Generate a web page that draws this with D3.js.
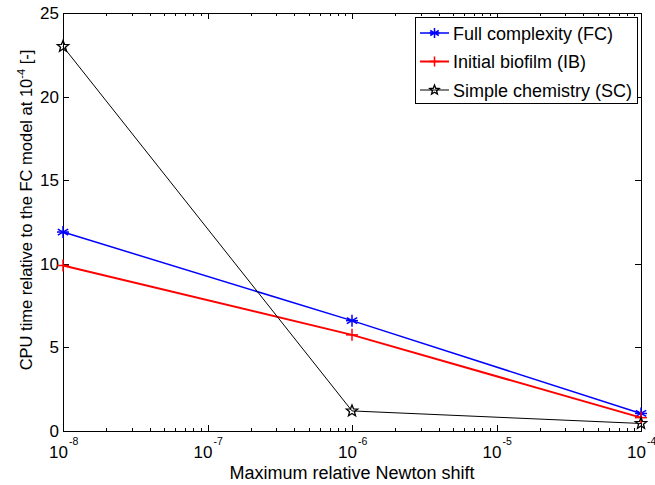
<!DOCTYPE html>
<html>
<head>
<meta charset="utf-8">
<script src="https://cdn.jsdelivr.net/npm/d3@7"></script>
<style>
  html, body { margin: 0; padding: 0; background: #fff; }
  svg { display: block; font-family: "Liberation Sans", Arial, sans-serif; }
</style>
</head>
<body>
<svg id="chart" width="655" height="485"></svg>
<script>
// Newton shift tolerances (x) and CPU time relative to FC at 1e-4 (y)
const tolerances = [1e-8, 1e-6, 1e-4];
const fullComplexity = [11.9, 6.6, 1.05];
const initialBiofilm = [9.9, 5.75, 0.8];
const simpleChemistry = [23.0, 1.2, 0.45];
const seriesNames = ["Full complexity (FC)", "Initial biofilm (IB)", "Simple chemistry (SC)"];
const xTickExponents = [-8, -7, -6, -5, -4];
const yTicks = [0, 5, 10, 15, 20, 25];

const series = [
  { name: seriesNames[0], values: fullComplexity, color: "#0000ff", width: 1.5, marker: "asterisk" },
  { name: seriesNames[1], values: initialBiofilm, color: "#ff0000", width: 2, marker: "plus" },
  { name: seriesNames[2], values: simpleChemistry, color: "#000000", width: 1, marker: "star" }
];

const svg = d3.select("#chart");
const m = { left: 63, right: 641, top: 13, bottom: 431 };

const x = d3.scaleLog().domain([1e-8, 1e-4]).range([m.left, m.right]);
const y = d3.scaleLinear().domain([0, 25]).range([m.bottom, m.top]);

// minor ticks for log axis
const minor = [];
for (let e = -8; e < -4; e++) for (let k = 2; k <= 9; k++) minor.push(k * Math.pow(10, e));
const major = xTickExponents.map(e => Math.pow(10, e));

const tickG = svg.append("g").attr("stroke", "#000").attr("stroke-width", 1);
major.forEach(v => {
  const px = Math.round(x(v)) + 0.5;
  tickG.append("line").attr("x1", px).attr("x2", px).attr("y1", m.bottom).attr("y2", m.bottom - 6);
  tickG.append("line").attr("x1", px).attr("x2", px).attr("y1", m.top).attr("y2", m.top + 6);
});
minor.forEach(v => {
  const px = Math.round(x(v)) + 0.5;
  tickG.append("line").attr("x1", px).attr("x2", px).attr("y1", m.bottom).attr("y2", m.bottom - 3);
  tickG.append("line").attr("x1", px).attr("x2", px).attr("y1", m.top).attr("y2", m.top + 3);
});
yTicks.forEach(v => {
  const py = Math.round(y(v)) + 0.5;
  tickG.append("line").attr("x1", m.left).attr("x2", m.left + 6).attr("y1", py).attr("y2", py);
  tickG.append("line").attr("x1", m.right).attr("x2", m.right - 6).attr("y1", py).attr("y2", py);
});

// frame
svg.append("rect")
  .attr("x", m.left + 0.5).attr("y", m.top + 0.5)
  .attr("width", m.right - m.left).attr("height", m.bottom - m.top)
  .attr("fill", "none").attr("stroke", "#000").attr("stroke-width", 1);

// y tick labels
svg.append("g").selectAll("text").data(yTicks).join("text")
  .attr("x", m.left - 4).attr("y", d => y(d) + 6)
  .attr("text-anchor", "end").attr("font-size", 17).text(d => d);

// x tick labels: 10 with superscript exponent
const xl = svg.append("g").selectAll("g").data(xTickExponents).join("g");
xl.append("text")
  .attr("x", d => x(Math.pow(10, d)) + 5).attr("y", 458)
  .attr("text-anchor", "end").attr("font-size", 17)
  .text("10");
xl.append("text")
  .attr("x", d => x(Math.pow(10, d)) + 6).attr("y", 445)
  .attr("font-size", 10.5)
  .text(d => String(d));

// axis titles
svg.append("text").attr("x", (m.left + m.right) / 2).attr("y", 479)
  .attr("text-anchor", "middle").attr("font-size", 18)
  .text("Maximum relative Newton shift");

const yt = svg.append("text")
  .attr("transform", "translate(32,210) rotate(-90)")
  .attr("text-anchor", "middle").attr("font-size", 16.5);
yt.append("tspan").text("CPU time relative to the FC model at 10");
yt.append("tspan").attr("font-size", 11).attr("dy", -7).text("-4");
yt.append("tspan").attr("dy", 7).text(" [-]");

// marker drawing
function drawMarker(g, type, cx, cy, color, r = 6) {
  if (type === "asterisk") {
    [0, 60, 120].forEach(a => {
      const rad = a * Math.PI / 180;
      g.append("line")
        .attr("x1", cx - r * Math.sin(rad)).attr("y1", cy - r * Math.cos(rad))
        .attr("x2", cx + r * Math.sin(rad)).attr("y2", cy + r * Math.cos(rad))
        .attr("stroke", color).attr("stroke-width", 1.5);
    });
    g.append("line").attr("x1", cx - r).attr("x2", cx + r).attr("y1", cy).attr("y2", cy)
      .attr("stroke", color).attr("stroke-width", 1.5);
  } else if (type === "plus") {
    g.append("line").attr("x1", cx - r).attr("x2", cx + r).attr("y1", cy).attr("y2", cy)
      .attr("stroke", color).attr("stroke-width", 1.5);
    g.append("line").attr("x1", cx).attr("x2", cx).attr("y1", cy - r).attr("y2", cy + r)
      .attr("stroke", color).attr("stroke-width", 1.5);
  } else {
    const pts = [];
    for (let i = 0; i < 10; i++) {
      const rr = i % 2 === 0 ? r : r * 0.43;
      const a = -Math.PI / 2 + i * Math.PI / 5;
      pts.push([cx + rr * Math.cos(a), cy + rr * Math.sin(a)]);
    }
    g.append("polygon").attr("points", pts.map(p => p.join(",")).join(" "))
      .attr("fill", "none").attr("stroke", color).attr("stroke-width", 1.3);
  }
}

const line = d3.line().x((d, i) => x(tolerances[i])).y(d => y(d));
const plot = svg.append("g");
series.forEach(s => {
  plot.append("path").attr("d", line(s.values))
    .attr("fill", "none").attr("stroke", s.color).attr("stroke-width", s.width);
  const mg = plot.append("g");
  s.values.forEach((v, i) => drawMarker(mg, s.marker, x(tolerances[i]), y(v), s.color));
});

// legend
const lg = svg.append("g");
lg.append("rect").attr("x", 415.5).attr("y", 17.5).attr("width", 222).attr("height", 86)
  .attr("fill", "#fff").attr("stroke", "#000").attr("stroke-width", 1);
series.forEach((s, i) => {
  const ly = 33 + i * 28.5;
  lg.append("line").attr("x1", 420).attr("x2", 449).attr("y1", ly).attr("y2", ly)
    .attr("stroke", s.color).attr("stroke-width", s.width);
  drawMarker(lg, s.marker, 434.5, ly, s.color, 5);
  lg.append("text").attr("x", 453).attr("y", ly + 6.5).attr("font-size", 18).text(s.name);
});
</script>
</body>
</html>
